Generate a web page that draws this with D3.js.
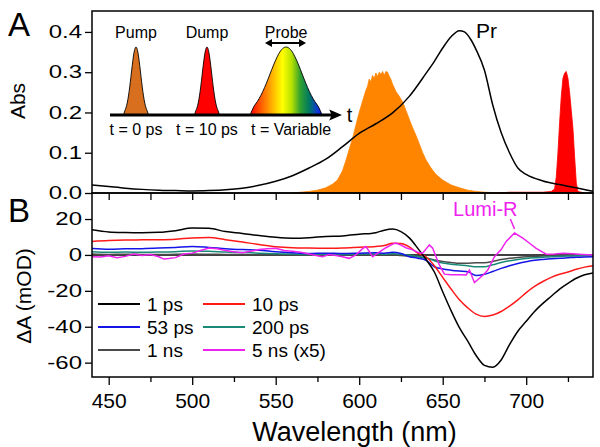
<!DOCTYPE html>
<html><head><meta charset="utf-8">
<script src="https://cdn.jsdelivr.net/npm/d3@7"></script>
<style>
body{margin:0;background:#fff}
svg{display:block}
text{font-family:Arial,"Liberation Sans",sans-serif;fill:#000}
</style>
</head><body>
<svg id="c" width="600" height="447"></svg>
<script>
// ---------------- DATA ----------------
// Panel A: Pr absorption spectrum
const wlPr  = [440,450,460,470,480,490,500,510,520,530,540,550,560,570,580,590,600,610,620,630,640,645,650,655,660,663,667,670,675,680,685,690,695,700,710,720,730,740];
const absPr = [0.020,0.016,0.012,0.009,0.007,0.006,0.005,0.006,0.008,0.012,0.019,0.029,0.043,0.062,0.084,0.115,0.148,0.172,0.199,0.240,0.297,0.327,0.360,0.388,0.403,0.400,0.380,0.356,0.305,0.218,0.150,0.100,0.062,0.046,0.030,0.021,0.013,0.004];
// Pump laser spectrum (orange)
const wlPump   = [560,565,570,575,580,584,587,590,592,594,596,598,600,602,604,605,606,607,608,609,610,611,612,613,614,615,616,617,618,619,620,622,624,626,628,630,632,634,636,638,640,643,646,650,655,660,665,670,675,680,685];
const pumpSpec = [0.000,0.002,0.004,0.007,0.013,0.022,0.032,0.055,0.080,0.108,0.135,0.168,0.200,0.228,0.255,0.265,0.283,0.276,0.292,0.284,0.298,0.289,0.300,0.294,0.302,0.292,0.302,0.300,0.290,0.282,0.270,0.252,0.240,0.226,0.205,0.183,0.162,0.143,0.122,0.100,0.082,0.062,0.046,0.032,0.020,0.013,0.007,0.004,0.002,0.001,0.000];
// Dump laser spectrum (red)
const wlDump   = [684,690,700,710,715,717,718,719,720,721,722,723,724,725,726,727,728,729,730,731,735];
const dumpSpec = [0.000,0.002,0.002,0.002,0.004,0.010,0.040,0.100,0.175,0.240,0.285,0.298,0.302,0.285,0.250,0.205,0.160,0.090,0.025,0.004,0.000];

// Panel B: transient difference spectra (mOD)
const wlB   = [440,450,460,470,480,490,500,510,520,530,540,550,560,570,580,590,600,610,615,620,625,630,635,640,645,650,655,660,665,670,675,680,685,690,695,700,705,710,715,720,725,730,735,740];
const ps1   = [14.0,12.8,12.5,12.4,12.6,13.5,15.0,14.8,13.0,12.0,10.8,9.8,9.3,9.6,10.3,10.6,11.5,12.4,13.8,14.4,13.0,9.5,3.8,-2.5,-9.5,-20.5,-31.0,-40.5,-48.0,-56.0,-61.5,-62.5,-58.5,-50.0,-42.5,-37.0,-31.5,-27.0,-23.0,-19.0,-15.8,-13.0,-11.0,-10.0];
const ps10  = [7.5,8.0,8.3,8.4,8.5,8.8,9.5,9.7,8.5,7.2,5.8,4.6,4.0,3.8,3.7,3.9,4.3,4.7,5.2,6.5,6.3,4.5,1.0,-1.0,-6.0,-12.5,-19.0,-25.0,-29.5,-33.0,-34.3,-33.5,-31.5,-28.5,-25.0,-21.0,-17.5,-14.8,-12.5,-10.8,-9.5,-8.0,-6.8,-6.0];
const ps53  = [3.6,3.2,3.4,3.5,3.8,4.2,4.7,4.2,3.5,3.0,2.6,1.8,1.2,0.8,1.0,0.8,1.0,1.2,1.0,1.5,0.8,-1.0,-1.8,-3.0,-6.6,-7.8,-8.5,-9.0,-9.4,-11.5,-10.8,-9.2,-7.5,-6.0,-4.8,-3.8,-3.0,-2.5,-2.1,-1.9,-1.6,-1.3,-1.1,-1.0];
const ps200 = [1.8,1.5,1.6,1.5,1.6,1.8,2.2,2.0,1.6,1.3,1.0,0.7,0.5,0.3,0.4,0.3,0.5,0.5,0.4,0.6,0.4,-0.2,-0.8,-1.5,-3.2,-4.5,-5.2,-5.6,-6.0,-6.6,-6.6,-5.5,-4.2,-3.2,-2.5,-2.0,-1.6,-1.3,-1.0,-0.8,-0.6,-0.5,-0.4,-0.4];
const ns1   = [0.5,0.3,0.4,0.3,0.2,0.4,0.5,0.4,0.3,0.2,0.1,0.0,-0.1,-0.2,-0.1,-0.2,0.0,-0.1,-0.2,0.0,-0.3,-0.6,-1.0,-1.8,-2.8,-3.6,-4.2,-4.7,-4.6,-4.4,-4.3,-3.6,-2.6,-1.9,-1.4,-1.0,-0.8,-0.6,-0.5,-0.4,-0.3,-0.3,-0.2,-0.2];
const wlMag = [440,445,450,455,460,465,470,475,480,483,486,490,495,500,505,510,515,520,525,530,535,540,545,550,555,560,565,570,575,578,582,586,590,594,598,602,604,606,608,612,616,620,622,625,628,632,635,638,642,644,646,648,651,655,660,664,666,669,672,675,677,681,685,688,693,698,702,706,712,717,722,728,734,740];
const ns5x5 = [-1.0,-1.2,-0.5,-1.5,-0.8,0.5,-0.3,0.2,-1.0,-2.3,-2.0,-1.5,0.5,1.0,2.5,3.8,3.5,2.5,1.8,1.2,2.0,3.0,3.5,3.7,2.5,2.0,1.5,0.5,-0.5,-1.0,0.2,-0.3,-1.0,-1.9,0.0,3.5,4.7,2.0,-1.0,1.5,4.0,6.0,6.6,5.5,4.0,2.8,1.5,1.0,5.6,3.7,-1.0,-5.6,-10.7,-11.0,-11.0,-11.2,-8.4,-15.4,-13.0,-10.5,-8.4,-1.0,3.0,7.5,12.2,9.4,6.5,3.7,0.4,0.5,1.0,0.6,0.3,0.0];

const seriesNames  = ["1 ps","10 ps","53 ps","200 ps","1 ns","5 ns (x5)"];
const seriesColors = ["#000000","#ff1a1a","#1414e6","#1a8a78","#4a4a4a","#ee22ee"];

// Axes ticks
const xMajor = [450,500,550,600,650,700];
const xMinor = [475,525,575,625,675,725];
const xAll   = [450,475,500,525,550,575,600,625,650,675,700,725];
const yTicksA = [0.0,0.1,0.2,0.3,0.4];
const yTicksB = [20,0,-20,-40,-60];

// Inset (pulse scheme)
const pulseNames   = ["Pump","Dump","Probe"];
const pulseTimes   = ["t = 0 ps","t = 10 ps","t = Variable"];
const pulseCenters = [11.2, 41.8, 75.9];
const pulseHalfW   = [5.4, 5.4, 15.5];
const pulseOffsets = [-1,-0.9,-0.8,-0.7,-0.6,-0.5,-0.4,-0.3,-0.2,-0.1,0,0.1,0.2,0.3,0.4,0.5,0.6,0.7,0.8,0.9,1];
const narrowProfile = [0,0.057,0.104,0.177,0.280,0.413,0.568,0.727,0.868,0.965,1,0.965,0.868,0.727,0.568,0.413,0.280,0.177,0.104,0.057,0];
const wideProfile   = [0,0.12,0.198,0.289,0.402,0.531,0.667,0.796,0.904,0.975,1,0.975,0.904,0.796,0.667,0.531,0.402,0.289,0.198,0.12,0];

// ---------------- LAYOUT ----------------
const L = 92, R = 593, TA = 11, BA = 193, BB = 377;
const svg = d3.select("#c");
const x  = d3.scaleLinear().domain([440,740]).range([L,R]);
const yA = d3.scaleLinear().domain([0,0.452]).range([BA,TA]);
const yB = d3.scaleLinear().domain([-68,34.5]).range([BB,BA]);
const ix = d3.scaleLinear().domain([0,100]).range([110,342]);
const iy = d3.scaleLinear().domain([0,1]).range([115,47]);

const defs = svg.append("defs");
defs.append("clipPath").attr("id","clipA").append("rect").attr("x",L).attr("y",TA).attr("width",R-L).attr("height",BA-TA+1);
defs.append("clipPath").attr("id","clipB").append("rect").attr("x",L).attr("y",BA).attr("width",R-L).attr("height",BB-BA);

// gradient for probe pulse
const gx0 = ix(pulseCenters[2]-pulseHalfW[2]), gx1 = ix(pulseCenters[2]+pulseHalfW[2]);
const grad = defs.append("linearGradient").attr("id","probeGrad").attr("gradientUnits","userSpaceOnUse")
  .attr("x1",gx0).attr("x2",gx1).attr("y1",0).attr("y2",0);
[[0,"#ff0000"],[0.15,"#ff5a00"],[0.3,"#ffae00"],[0.45,"#ffff00"],[0.58,"#b4e000"],[0.7,"#30a030"],[0.82,"#007a60"],[0.95,"#1030e0"],[1,"#0000ff"]]
  .forEach(s => grad.append("stop").attr("offset",s[0]).attr("stop-color",s[1]));

// ---------------- PANEL A ----------------
const gA = svg.append("g").attr("clip-path","url(#clipA)");
const areaA = (wl, v) => d3.area().x((d,i)=>x(wl[i])).y0(yA(0)).y1((d,i)=>yA(v[i])).curve(d3.curveLinear)(v);
gA.append("path").attr("d",areaA(wlPump,pumpSpec)).attr("fill","#ff8400").attr("stroke","#ff8400").attr("stroke-width",0.8);
gA.append("path").attr("d",areaA(wlDump,dumpSpec)).attr("fill","#ff0000").attr("stroke","#ff0000").attr("stroke-width",0.8);
gA.append("path").attr("d", d3.line().x((d,i)=>x(wlPr[i])).y((d,i)=>yA(absPr[i])).curve(d3.curveMonotoneX)(absPr))
  .attr("fill","none").attr("stroke","#000").attr("stroke-width",1.5);

svg.append("text").attr("x",x(670)).attr("y",yA(0.385)).attr("font-size",21).text("Pr");

// Inset
const pulseFill = ["#d86f1e","#ff0000","url(#probeGrad)"];
pulseCenters.forEach((c,k)=>{
  const prof = k===2 ? wideProfile : narrowProfile;
  const a = d3.area().x((d,i)=>ix(c+pulseOffsets[i]*pulseHalfW[k])).y0(iy(0)).y1((d,i)=>iy(prof[i])).curve(d3.curveMonotoneX);
  svg.append("path").attr("d",a(prof)).attr("fill",pulseFill[k]).attr("stroke","#000").attr("stroke-width",0.9);
  svg.append("text").attr("x",ix(c)).attr("y",iy(1.13)).attr("text-anchor","middle").attr("font-size",16).text(pulseNames[k]);
  svg.append("text").attr("x",ix(c)+(k===2?5:0)).attr("y",iy(-0.294)).attr("text-anchor","middle").attr("font-size",16).text(pulseTimes[k]);
});
// time axis arrow
svg.append("line").attr("x1",ix(0)).attr("x2",ix(96)).attr("y1",iy(0)).attr("y2",iy(0)).attr("stroke","#000").attr("stroke-width",3);
svg.append("path").attr("d",`M${ix(100)},${iy(0)} L${ix(94.5)},${iy(0)-5.5} L${ix(95.5)},${iy(0)} L${ix(94.5)},${iy(0)+5.5} Z`).attr("fill","#000");
svg.append("text").attr("x",ix(102)).attr("y",iy(-0.1)).attr("font-size",20).text("t");
// probe double arrow
const da0 = ix(66.8), da1 = ix(84.5), dy = iy(1.059);
svg.append("line").attr("x1",da0+4).attr("x2",da1-4).attr("y1",dy).attr("y2",dy).attr("stroke","#000").attr("stroke-width",2);
svg.append("path").attr("d",`M${da0},${dy} L${da0+7},${dy-4} L${da0+7},${dy+4} Z M${da1},${dy} L${da1-7},${dy-4} L${da1-7},${dy+4} Z`).attr("fill","#000");

// ---------------- PANEL B ----------------
const gB = svg.append("g").attr("clip-path","url(#clipB)");
const seriesData = [ps1,ps10,ps53,ps200,ns1];
gB.append("line").attr("x1",L).attr("x2",R).attr("y1",yB(0)).attr("y2",yB(0)).attr("stroke","#000").attr("stroke-width",1.5);
[4,3,2,1,0].forEach(k=>{
  const v = seriesData[k];
  gB.append("path").attr("d", d3.line().x((d,i)=>x(wlB[i])).y((d,i)=>yB(v[i])).curve(d3.curveMonotoneX)(v))
    .attr("fill","none").attr("stroke",seriesColors[k]).attr("stroke-width",1.5);
});
gB.append("path").attr("d", d3.line().x((d,i)=>x(wlMag[i])).y((d,i)=>yB(ns5x5[i])).curve(d3.curveLinear)(ns5x5))
  .attr("fill","none").attr("stroke",seriesColors[5]).attr("stroke-width",1.5);

// Lumi-R annotation
svg.append("text").attr("x",x(675.5)).attr("y",yB(21.5)).attr("text-anchor","middle").attr("font-size",20).style("fill","#ee22ee").text("Lumi-R");
svg.append("line").attr("x1",x(690.5)).attr("y1",yB(20)).attr("x2",x(693)).attr("y2",yB(14.5)).attr("stroke","#ee22ee").attr("stroke-width",1.5);

// Legend
const legRows = [304,327,350], legCols = [98,203];
seriesNames.forEach((n,k)=>{
  const r = Math.floor(k/2), c = k%2;
  const lx = legCols[c], ly = legRows[r];
  svg.append("line").attr("x1",lx).attr("x2",lx+42).attr("y1",ly).attr("y2",ly).attr("stroke",seriesColors[k]).attr("stroke-width",1.8);
  svg.append("text").attr("x",lx+49).attr("y",ly+6.5).attr("font-size",19).text(n);
});

// ---------------- FRAMES & AXES ----------------
svg.append("rect").attr("x",L).attr("y",TA).attr("width",R-L).attr("height",BA-TA).attr("fill","none").attr("stroke","#000").attr("stroke-width",1.5);
svg.append("rect").attr("x",L).attr("y",BA).attr("width",R-L).attr("height",BB-BA).attr("fill","none").attr("stroke","#000").attr("stroke-width",1.5);

function styleAxis(g){ g.select(".domain").remove(); g.selectAll(".tick line").attr("stroke","#000").attr("stroke-width",1.3); }

const axA = svg.append("g").attr("transform",`translate(${L},0)`)
  .call(d3.axisLeft(yA).tickValues(yTicksA).tickFormat(d3.format(".1f")).tickSize(7).tickPadding(3)).call(styleAxis);
const axB = svg.append("g").attr("transform",`translate(${L},0)`)
  .call(d3.axisLeft(yB).tickValues(yTicksB).tickFormat(d=>String(d)).tickSize(7).tickPadding(3)).call(styleAxis);
[axA,axB].forEach(a=>a.selectAll(".tick text").attr("font-size",24).attr("font-family",null).attr("transform","scale(1,0.74)").attr("fill","#000"));

const axX = svg.append("g").attr("transform",`translate(0,${BB})`)
  .call(d3.axisBottom(x).tickValues(xMajor).tickFormat(d3.format("d")).tickSize(8).tickPadding(8)).call(styleAxis);
axX.selectAll(".tick text").attr("font-size",21).attr("font-family",null).attr("fill","#000");
svg.append("g").attr("transform",`translate(0,${BB})`)
  .call(d3.axisBottom(x).tickValues(xMinor).tickFormat("").tickSize(5)).call(styleAxis);
svg.append("g").attr("transform",`translate(0,${BA})`)
  .call(d3.axisBottom(x).tickValues(xAll).tickFormat("").tickSize(7)).call(styleAxis);

// Axis titles and panel letters
svg.append("text").attr("transform","translate(25,101) rotate(-90)").attr("text-anchor","middle").attr("font-size",21).text("Abs");
svg.append("text").attr("transform","translate(31,296) rotate(-90)").attr("text-anchor","middle").attr("font-size",21).text("ΔA (mOD)");
svg.append("text").attr("x",(L+R)/2+12).attr("y",441).attr("text-anchor","middle").attr("font-size",27).text("Wavelength (nm)");
svg.append("text").attr("x",8).attr("y",36).attr("font-size",33).text("A");
svg.append("text").attr("x",8).attr("y",222).attr("font-size",33).text("B");
</script>
</body></html>
